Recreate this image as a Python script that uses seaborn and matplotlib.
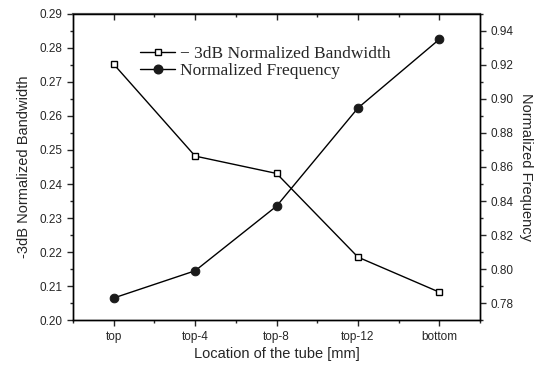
import matplotlib
matplotlib.use("Agg")
import matplotlib.pyplot as plt
import seaborn as sns
import numpy as np
from matplotlib.ticker import MultipleLocator, FixedLocator
from matplotlib.lines import Line2D

categories = ["top", "top-4", "top-8", "top-12", "bottom"]
bandwidth = [0.2752, 0.2482, 0.2431, 0.2185, 0.2082]
frequency = [0.783, 0.799, 0.837, 0.8947, 0.9351]

sns.set_style("ticks")
plt.rcParams['font.family'] = ['Liberation Sans', 'DejaVu Sans']

fig = plt.figure(figsize=(5.45, 3.65), dpi=100)
ax = fig.add_axes([0.134, 0.123, 0.747, 0.839])
ax2 = ax.twinx()

sq_ms, ci_ms = 4.8, 6.2
sns.lineplot(x=categories, y=bandwidth, ax=ax, sort=False, color="black", lw=1,
             marker="s", markersize=sq_ms, markerfacecolor="white", markeredgecolor="black",
             markeredgewidth=1)
sns.lineplot(x=categories, y=frequency, ax=ax2, sort=False, color="black", lw=1,
             marker="o", markersize=ci_ms, markerfacecolor="#1a1a1a", markeredgecolor="#1a1a1a")

ax.set_xlim(-0.5, 4.5)
ax.set_ylim(0.20, 0.29)
ax2.set_ylim(0.77, 0.95)
ax.set_xticks(range(len(categories)))
ax.set_xticklabels(categories)
ax.xaxis.set_minor_locator(FixedLocator([0.5, 1.5, 2.5, 3.5, 4.5, -0.5]))
ax.yaxis.set_major_locator(MultipleLocator(0.01))
ax.yaxis.set_minor_locator(MultipleLocator(0.005))
ax.yaxis.set_major_formatter(matplotlib.ticker.FormatStrFormatter('%.2f'))
ax2.set_yticks(np.arange(0.78, 0.9401, 0.02))
ax2.yaxis.set_minor_locator(MultipleLocator(0.01))
ax2.yaxis.set_major_formatter(matplotlib.ticker.FormatStrFormatter('%.2f'))

ax.tick_params(axis='both', which='major', labelsize=8.5, length=4, width=1, direction='out')
ax.tick_params(axis='both', which='minor', length=2.5, width=1, direction='out')
ax2.tick_params(axis='y', which='major', labelsize=8.5, length=4, width=1, direction='out')
ax2.tick_params(axis='y', which='minor', length=2.5, width=1, direction='out')

top = ax.secondary_xaxis('top')
top.set_xticks(range(len(categories)))
top.xaxis.set_minor_locator(FixedLocator([0.5, 1.5, 2.5, 3.5]))
top.tick_params(axis='x', which='major', direction='in', length=4, width=1, labeltop=False)
top.tick_params(axis='x', which='minor', direction='in', length=2.5, width=1)
top.spines['top'].set_color("#555555")
top.spines['top'].set_linewidth(1.5)

for a in (ax, ax2):
    for s in a.spines.values():
        s.set_visible(True)
        s.set_linewidth(1)
        s.set_color("black")
ax.spines['top'].set_color("#555555")
ax.spines['top'].set_linewidth(1.5)

ax.set_xlabel("Location of the tube [mm]", fontsize=10.5, labelpad=3)
ax.set_ylabel("-3dB Normalized Bandwidth", fontsize=10.5, labelpad=6)
ax2.set_ylabel("Normalized Frequency", fontsize=10.5, rotation=270, labelpad=14)

handles = [
    Line2D([], [], color="black", lw=1, marker="s", markersize=sq_ms,
           markerfacecolor="white", markeredgecolor="black"),
    Line2D([], [], color="black", lw=1, marker="o", markersize=ci_ms,
           markerfacecolor="#1a1a1a", markeredgecolor="#1a1a1a"),
]
labels = ["\u2212 3dB Normalized Bandwidth", "Normalized Frequency"]
leg = ax2.legend(handles, labels, loc="upper left", bbox_to_anchor=(0.135, 0.935),
                 frameon=False, prop={'family': 'Liberation Serif', 'size': 12.5},
                 handlelength=2.0, handletextpad=0.3, labelspacing=0.05, borderpad=0.2)

fig.savefig("out.png", dpi=100)
